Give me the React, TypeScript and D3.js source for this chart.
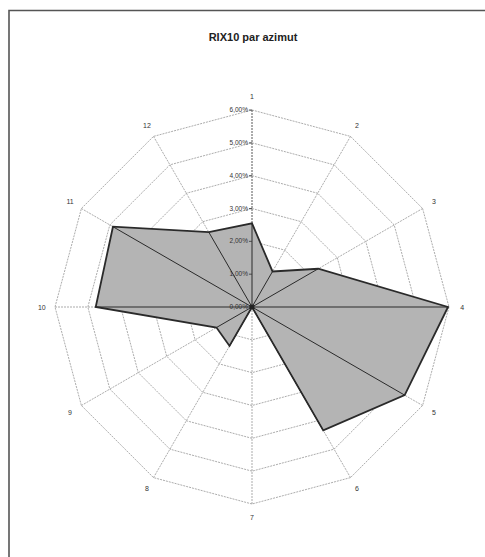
import React from "react";
import * as d3 from "d3";

const categories = ["1", "2", "3", "4", "5", "6", "7", "8", "9", "10", "11", "12"];
const values = [2.55, 1.25, 2.33, 5.97, 5.37, 4.34, 0.0, 1.37, 1.25, 4.76, 4.89, 2.63];
const ticks = [0, 1, 2, 3, 4, 5, 6];
const tickLabels = ["0,00%", "1,00%", "2,00%", "3,00%", "4,00%", "5,00%", "6,00%"];
const title = "RIX10 par azimut";

export default function App() {
  const W = 485, H = 557;
  const cx = 252, cy = 307, R = 197;
  const r = d3.scaleLinear().domain([0, 6]).range([0, R]);
  const angle = d3.scaleLinear().domain([0, categories.length]).range([0, 2 * Math.PI]);
  const pt = (i: number, v: number): [number, number] => {
    const a = angle(i);
    return [cx + r(v) * Math.sin(a), cy - r(v) * Math.cos(a)];
  };
  const radial = d3
    .lineRadial<number>()
    .angle((_, i) => angle(i))
    .radius((d) => r(d))
    .curve(d3.curveLinearClosed);

  return (
    <svg
      width={W}
      height={H}
      style={{ position: "absolute", left: 0, top: 0, background: "#fff" }}
      fontFamily="Liberation Sans, Arial, sans-serif"
    >
      <rect x={0} y={0} width={W} height={H} fill="#fff" />
      <path d={`M9,${H} V10.5 H${W}`} fill="none" stroke="#555" strokeWidth={1.6} />
      <text x={253} y={41} textAnchor="middle" fontSize={11} fontWeight="bold" fill="#222">
        {title}
      </text>
      <g transform={`translate(${cx},${cy})`}>
        {ticks.slice(1).map((t) => (
          <path
            key={"ring" + t}
            d={radial(categories.map(() => t)) || ""}
            fill="none"
            stroke="#888"
            strokeWidth={0.7}
            strokeDasharray="2,1"
          />
        ))}
      </g>
      {categories.map((c, i) => {
        const [x, y] = pt(i, 6);
        return (
          <line
            key={"spoke" + c}
            x1={cx}
            y1={cy}
            x2={x}
            y2={y}
            stroke={i === 0 ? "#444" : "#888"}
            strokeWidth={i === 0 ? 0.9 : 0.7}
            strokeDasharray="2,1"
          />
        );
      })}
      <g transform={`translate(${cx},${cy})`}>
        <path d={radial(values) || ""} fill="#b4b4b4" stroke="#2a2a2a" strokeWidth={1.8} strokeLinejoin="miter" />
      </g>
      {values.map((v, i) => {
        const [x, y] = pt(i, v);
        return <line key={"inner" + i} x1={cx} y1={cy} x2={x} y2={y} stroke="#2a2a2a" strokeWidth={1} />;
      })}
      {ticks.map((t, i) => {
        const y = cy - r(t);
        return (
          <g key={"tick" + t}>
            <line x1={cx - 3} y1={y} x2={cx} y2={y} stroke="#333" strokeWidth={0.8} />
            <text x={cx - 4} y={y + 2} textAnchor="end" fontSize={6.5} fill="#333">
              {tickLabels[i]}
            </text>
          </g>
        );
      })}
      <circle cx={cx} cy={cy} r={2.5} fill="#222" />
      {categories.map((c, i) => {
        const [x, y] = pt(i, 6.4);
        return (
          <text key={"lab" + c} x={x} y={y + 2.5} textAnchor="middle" fontSize={7} fill="#333">
            {c}
          </text>
        );
      })}
    </svg>
  );
}
